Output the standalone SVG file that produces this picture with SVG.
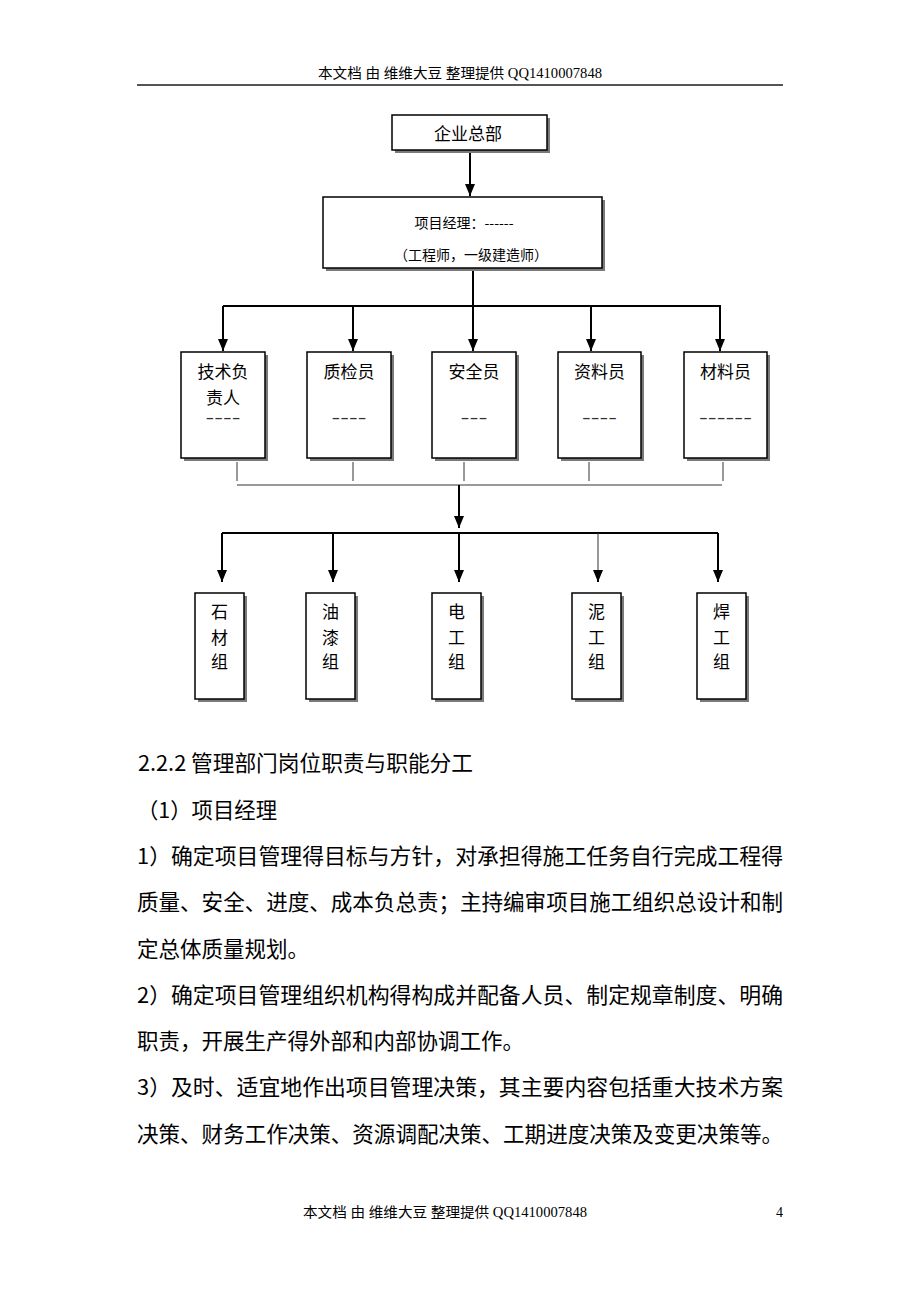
<svg xmlns="http://www.w3.org/2000/svg" width="920" height="1302" viewBox="0 0 920 1302">
<style>
.hdr{font-family:"Liberation Serif","Noto Sans CJK SC",serif;font-size:14px;fill:#000}
.box{fill:#fff;stroke:#000;stroke-width:1.5}
.shd{fill:#7a7a7a}
.lbl{font-family:"Noto Sans CJK SC",sans-serif;font-size:17px;fill:#000;text-anchor:middle}
.sm{font-family:"Noto Sans CJK SC",sans-serif;font-size:14px;fill:#000;text-anchor:middle}
.dash{font-family:"Liberation Sans",sans-serif;font-size:17px;fill:#333;text-anchor:middle}
.conn{stroke:#000;stroke-width:2;fill:none}
.thin{stroke:#333;stroke-width:1;fill:none}
.gray{stroke:#999;stroke-width:2;fill:none}
.body{font-family:"Noto Sans CJK SC",sans-serif;font-size:21.5px;fill:#000}
</style>
<defs>
<marker id="arr" viewBox="0 0 12 10" refX="12" refY="5" markerWidth="12" markerHeight="10" markerUnits="userSpaceOnUse" orient="auto">
<path d="M0,0 L12,5 L0,10 z" fill="#000"/>
</marker>
</defs>
<rect x="0" y="0" width="920" height="1302" fill="#fff"/>

<g id="header">
<text class="hdr" x="318" y="78" textLength="284" lengthAdjust="spacingAndGlyphs">本文档 由 维维大豆 整理提供 QQ1410007848</text>
<line x1="137" y1="85" x2="783" y2="85" stroke="#555" stroke-width="2"/>
</g>

<g id="connectors">
<line class="conn" x1="470" y1="150" x2="470" y2="196" marker-end="url(#arr)"/>
<line class="conn" x1="473" y1="268" x2="473" y2="351" marker-end="url(#arr)"/>
<line class="conn" x1="223" y1="306" x2="721" y2="306"/>
<line class="conn" x1="223" y1="306" x2="223" y2="351" marker-end="url(#arr)"/>
<line class="conn" x1="353" y1="306" x2="353" y2="351" marker-end="url(#arr)"/>
<line class="conn" x1="591" y1="306" x2="591" y2="351" marker-end="url(#arr)"/>
<line class="conn" x1="720" y1="306" x2="720" y2="351" marker-end="url(#arr)"/>
<line class="thin" x1="237" y1="462" x2="237" y2="481"/>
<line class="thin" x1="353" y1="462" x2="353" y2="481"/>
<line class="thin" x1="464" y1="462" x2="464" y2="481"/>
<line class="thin" x1="589" y1="462" x2="589" y2="481"/>
<line class="thin" x1="723" y1="462" x2="723" y2="481"/>
<line class="gray" x1="237" y1="485" x2="722" y2="485"/>
<line class="conn" x1="459" y1="485" x2="459" y2="528" marker-end="url(#arr)"/>
<line class="conn" x1="222" y1="533" x2="718" y2="533"/>
<line class="conn" x1="222" y1="533" x2="222" y2="582" marker-end="url(#arr)"/>
<line class="conn" x1="333" y1="533" x2="333" y2="582" marker-end="url(#arr)"/>
<line class="conn" x1="459" y1="533" x2="459" y2="582" marker-end="url(#arr)"/>
<line class="thin" x1="598" y1="533" x2="598" y2="572"/>
<line class="conn" x1="598" y1="570" x2="598" y2="582" marker-end="url(#arr)"/>
<line class="conn" x1="718" y1="533" x2="718" y2="582" marker-end="url(#arr)"/>
</g>

<g id="node-hq">
<rect class="shd" x="395" y="118" width="155" height="35"/>
<rect class="box" x="392" y="115" width="155" height="35"/>
<text class="lbl" x="468" y="140">企业总部</text>
</g>

<g id="node-pm">
<rect class="shd" x="326" y="200" width="279" height="71"/>
<rect class="box" x="323" y="197" width="279" height="71"/>
<text class="sm" x="464" y="228">项目经理：------</text>
<text class="sm" x="471" y="260">（工程师，一级建造师）</text>
</g>

<g id="node-tech">
<rect class="shd" x="184" y="355" width="84" height="106"/>
<rect class="box" x="181" y="352" width="84" height="106"/>
<text class="lbl" x="223" y="378">技术负</text>
<text class="lbl" x="223" y="404">责人</text>
<text class="dash" x="223" y="423" textLength="35" lengthAdjust="spacingAndGlyphs">----</text>
</g>

<g id="node-qc">
<rect class="shd" x="310" y="355" width="84" height="106"/>
<rect class="box" x="307" y="352" width="84" height="106"/>
<text class="lbl" x="349" y="378">质检员</text>
<text class="dash" x="349" y="423" textLength="35" lengthAdjust="spacingAndGlyphs">----</text>
</g>

<g id="node-safety">
<rect class="shd" x="435" y="355" width="84" height="106"/>
<rect class="box" x="432" y="352" width="84" height="106"/>
<text class="lbl" x="474" y="378">安全员</text>
<text class="dash" x="474" y="423" textLength="27" lengthAdjust="spacingAndGlyphs">---</text>
</g>

<g id="node-docs">
<rect class="shd" x="561" y="355" width="83" height="106"/>
<rect class="box" x="558" y="352" width="83" height="106"/>
<text class="lbl" x="599.5" y="378">资料员</text>
<text class="dash" x="599.5" y="423" textLength="35" lengthAdjust="spacingAndGlyphs">----</text>
</g>

<g id="node-material">
<rect class="shd" x="687" y="355" width="83" height="106"/>
<rect class="box" x="684" y="352" width="83" height="106"/>
<text class="lbl" x="725.5" y="378">材料员</text>
<text class="dash" x="725.5" y="423" textLength="53" lengthAdjust="spacingAndGlyphs">------</text>
</g>

<g id="node-stone">
<rect class="shd" x="198" y="596" width="49" height="106"/>
<rect class="box" x="195" y="593" width="49" height="106"/>
<text class="lbl" x="219.5" y="618">石</text>
<text class="lbl" x="219.5" y="644">材</text>
<text class="lbl" x="219.5" y="668">组</text>
</g>

<g id="node-paint">
<rect class="shd" x="309" y="596" width="49" height="106"/>
<rect class="box" x="306" y="593" width="49" height="106"/>
<text class="lbl" x="330.5" y="618">油</text>
<text class="lbl" x="330.5" y="644">漆</text>
<text class="lbl" x="330.5" y="668">组</text>
</g>

<g id="node-elec">
<rect class="shd" x="435" y="596" width="49" height="106"/>
<rect class="box" x="432" y="593" width="49" height="106"/>
<text class="lbl" x="456.5" y="618">电</text>
<text class="lbl" x="456.5" y="644">工</text>
<text class="lbl" x="456.5" y="668">组</text>
</g>

<g id="node-mason">
<rect class="shd" x="575" y="596" width="49" height="106"/>
<rect class="box" x="572" y="593" width="49" height="106"/>
<text class="lbl" x="596.5" y="618">泥</text>
<text class="lbl" x="596.5" y="644">工</text>
<text class="lbl" x="596.5" y="668">组</text>
</g>

<g id="node-weld">
<rect class="shd" x="700" y="596" width="49" height="106"/>
<rect class="box" x="697" y="593" width="49" height="106"/>
<text class="lbl" x="721.5" y="618">焊</text>
<text class="lbl" x="721.5" y="644">工</text>
<text class="lbl" x="721.5" y="668">组</text>
</g>

<g id="body-text">
<text class="body" x="138" y="771" textLength="335" lengthAdjust="spacingAndGlyphs">2.2.2 管理部门岗位职责与职能分工</text>
<text class="body" x="137" y="818" textLength="140" lengthAdjust="spacingAndGlyphs">（1）项目经理</text>
<text class="body" x="137" y="864" textLength="646" lengthAdjust="spacingAndGlyphs">1）确定项目管理得目标与方针，对承担得施工任务自行完成工程得</text>
<text class="body" x="137" y="910" textLength="646" lengthAdjust="spacingAndGlyphs">质量、安全、进度、成本负总责；主持编审项目施工组织总设计和制</text>
<text class="body" x="137" y="957" textLength="172" lengthAdjust="spacingAndGlyphs">定总体质量规划。</text>
<text class="body" x="137" y="1003" textLength="646" lengthAdjust="spacingAndGlyphs">2）确定项目管理组织机构得构成并配备人员、制定规章制度、明确</text>
<text class="body" x="137" y="1049" textLength="387" lengthAdjust="spacingAndGlyphs">职责，开展生产得外部和内部协调工作。</text>
<text class="body" x="137" y="1095" textLength="646" lengthAdjust="spacingAndGlyphs">3）及时、适宜地作出项目管理决策，其主要内容包括重大技术方案</text>
<text class="body" x="137" y="1142" textLength="646" lengthAdjust="spacingAndGlyphs">决策、财务工作决策、资源调配决策、工期进度决策及变更决策等。</text>
</g>

<g id="footer">
<text class="hdr" x="303" y="1217" textLength="284" lengthAdjust="spacingAndGlyphs">本文档 由 维维大豆 整理提供 QQ1410007848</text>
<text class="hdr" x="776" y="1217">4</text>
</g>
</svg>
